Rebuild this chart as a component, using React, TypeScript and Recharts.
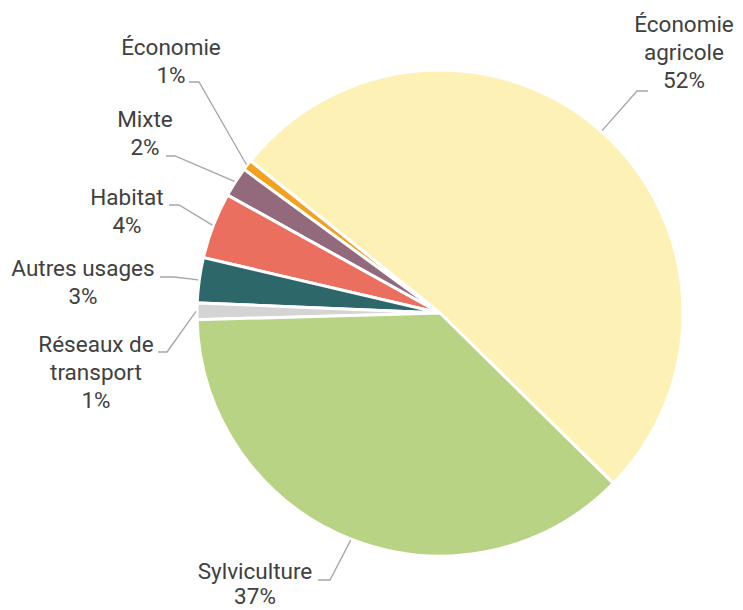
import React from "react";
import { PieChart, Pie, Cell } from "recharts";

const categories = [
  "Économie\nagricole",
  "Économie",
  "Mixte",
  "Habitat",
  "Autres usages",
  "Réseaux de\ntransport",
  "Sylviculture",
];
const shares = [51.6, 0.7, 2.0, 4.4, 3.0, 1.1, 37.2];
const colors = ["#FEF1B5", "#F4A11F", "#93697C", "#EB6F5F", "#2D676A", "#D4D4D4", "#B8D384"];

// label layout offsets relative to pie centre: elbow, horizontal end, text centre x, first baseline, line gap
const labelLayout = [
  { ex: 197, ey: -222, hx: 208, tx: 244, ty: -281, gap: 28 },
  { ex: -241, ey: -231, hx: -251, tx: -269, ty: -258, gap: 28 },
  { ex: -265, ey: -157, hx: -274, tx: -295, ty: -186, gap: 28 },
  { ex: -261, ey: -108, hx: -271, tx: -313, ty: -108, gap: 28 },
  { ex: -266, ey: -36, hx: -280, tx: -357, ty: -37, gap: 28 },
  { ex: -273, ey: 39, hx: -282, tx: -344, ty: 39, gap: 28 },
  { ex: -110, ey: 267, hx: -122, tx: -185, ty: 266, gap: 25 },
];

const data = categories.map((name, i) => ({ name, value: shares[i] }));

const RAD = Math.PI / 180;

const renderLabel = (props: any) => {
  const { cx, cy, midAngle, outerRadius, index, percent, name } = props;
  const L = labelLayout[index];
  const sx = cx + (outerRadius + 1) * Math.cos(-midAngle * RAD);
  const sy = cy + (outerRadius + 1) * Math.sin(-midAngle * RAD);
  const lines = String(name).split("\n");
  lines.push(Math.round(percent * 100) + "%");
  return (
    <g>
      <polyline
        points={`${sx},${sy} ${cx + L.ex},${cy + L.ey} ${cx + L.hx},${cy + L.ey}`}
        fill="none"
        stroke="#A6A6A6"
        strokeWidth={1.3}
      />
      <text
        x={cx + L.tx}
        y={cy + L.ty}
        textAnchor="middle"
        fill="#404040"
        fontSize={22.5}
        fontFamily="Roboto, sans-serif"
      >
        {lines.map((ln, k) => (
          <tspan key={k} x={cx + L.tx} dy={k === 0 ? 0 : L.gap}>
            {ln}
          </tspan>
        ))}
      </text>
    </g>
  );
};

export default function App() {
  return (
    <div style={{ position: "absolute", left: 0, top: 0, background: "#fff" }}>
      <PieChart width={743} height={610} margin={{ top: 0, right: 0, bottom: 0, left: 0 }}>
        <Pie
          data={data}
          dataKey="value"
          nameKey="name"
          cx={440}
          cy={313}
          outerRadius={243}
          startAngle={-44.5}
          endAngle={315.5}
          stroke="#fff"
          strokeWidth={3}
          label={renderLabel}
          labelLine={false}
          isAnimationActive={false}
        >
          {data.map((d, i) => (
            <Cell key={i} fill={colors[i]} />
          ))}
        </Pie>
      </PieChart>
    </div>
  );
}
